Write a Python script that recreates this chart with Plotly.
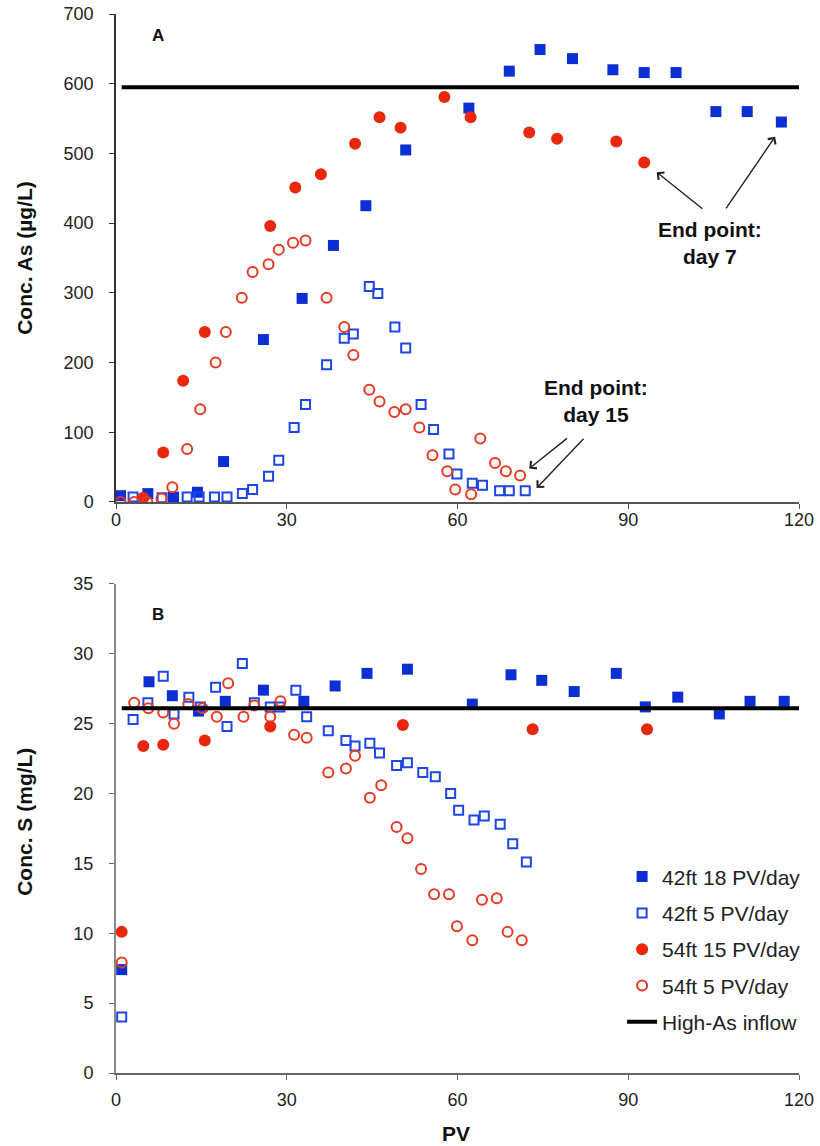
import plotly.graph_objects as go

# ---- Panel A: arsenic concentration vs pore volumes ----
as_pv_42ft_18 = [0.8, 5.6, 10.1, 14.3, 18.9, 25.9, 32.7, 38.2, 43.9, 50.9, 62.0, 69.1,
                 74.5, 80.2, 87.3, 92.8, 98.4, 105.4, 110.9, 116.9]
as_42ft_18 = [9, 12, 7, 14, 58, 233, 292, 368, 425, 505, 565, 618,
              649, 636, 620, 616, 616, 560, 560, 545]

as_pv_42ft_5 = [3.0, 8.1, 12.5, 14.6, 17.3, 19.5, 22.2, 24.0, 26.8, 28.6, 31.3, 33.3,
                37.0, 40.1, 41.7, 44.5, 46.0, 49.0, 50.9, 53.6, 55.8, 58.5, 59.9, 62.6,
                64.4, 67.4, 69.1, 71.9]
as_42ft_5 = [7, 6, 7, 7, 7, 7, 12, 18, 37, 60, 107, 140,
             197, 235, 241, 309, 299, 251, 221, 140, 104, 69, 40, 27,
             24, 16, 16, 16]

as_pv_54ft_15 = [4.8, 8.3, 11.8, 15.6, 27.1, 31.5, 36.0, 42.0, 46.3, 50.0, 57.7, 62.3,
                 72.6, 77.5, 87.9, 92.8]
as_54ft_15 = [6, 71, 174, 244, 396, 451, 470, 514, 552, 537, 581, 552,
              530, 521, 517, 487]

as_pv_54ft_5 = [0.8, 3.2, 5.5, 8.0, 9.9, 12.5, 14.8, 17.5, 19.3, 22.1, 24.0, 26.8,
                28.6, 31.1, 33.3, 37.0, 40.1, 41.7, 44.5, 46.3, 48.9, 50.9, 53.3, 55.6,
                58.2, 59.6, 62.4, 64.0, 66.6, 68.5, 71.0]
as_54ft_5 = [0, 0, 0, 5, 21, 76, 133, 200, 244, 293, 330, 341,
             362, 372, 375, 293, 251, 211, 161, 144, 129, 133, 107, 67,
             44, 18, 11, 91, 56, 44, 38]

# ---- Panel B: sulfur concentration vs pore volumes ----
s_pv_42ft_18 = [1.0, 5.8, 9.9, 14.5, 19.2, 25.9, 33.0, 38.5, 44.1, 51.2, 62.6, 69.4,
                74.8, 80.5, 87.9, 93.0, 98.7, 106.0, 111.4, 117.4]
s_42ft_18 = [7.4, 28.0, 27.0, 25.9, 26.6, 27.4, 26.6, 27.7, 28.6, 28.9, 26.4, 28.5,
             28.1, 27.3, 28.6, 26.2, 26.9, 25.7, 26.6, 26.6]

s_pv_42ft_5 = [1.0, 3.0, 5.6, 8.3, 10.2, 12.8, 14.8, 17.5, 19.5, 22.2, 24.3, 27.1,
               28.8, 31.6, 33.5, 37.3, 40.4, 42.0, 44.6, 46.3, 49.3, 51.2, 53.9, 56.1,
               58.8, 60.2, 62.9, 64.7, 67.5, 69.7, 72.1]
s_42ft_5 = [4.0, 25.3, 26.5, 28.4, 25.7, 26.9, 26.2, 27.6, 24.8, 29.3, 26.5, 26.2,
            26.2, 27.4, 25.5, 24.5, 23.8, 23.4, 23.6, 22.9, 22.0, 22.2, 21.5, 21.2,
            20.0, 18.8, 18.1, 18.4, 17.8, 16.4, 15.1]

s_pv_54ft_15 = [1.0, 4.8, 8.3, 15.6, 27.1, 50.4, 73.2, 93.3]
s_54ft_15 = [10.1, 23.4, 23.5, 23.8, 24.8, 24.9, 24.6, 24.6]

s_pv_54ft_5 = [1.0, 3.2, 5.7, 8.3, 10.2, 12.7, 15.2, 17.7, 19.7, 22.4, 24.3, 27.1,
               28.9, 31.3, 33.5, 37.3, 40.4, 42.0, 44.6, 46.6, 49.3, 51.2, 53.6, 55.9,
               58.5, 59.9, 62.6, 64.3, 66.9, 68.8, 71.3]
s_54ft_5 = [7.9, 26.5, 26.1, 25.8, 25.0, 26.4, 26.1, 25.5, 27.9, 25.5, 26.3, 25.5,
            26.6, 24.2, 24.0, 21.5, 21.8, 22.7, 19.7, 20.6, 17.6, 16.8, 14.6, 12.8,
            12.8, 10.5, 9.5, 12.4, 12.5, 10.1, 9.5]

# High-As inflow reference levels
inflow_pv = [1, 120]
inflow_as = [595, 595]
inflow_s = [26.1, 26.1]

series_names = ["42ft 18 PV/day", "42ft 5 PV/day", "54ft 15 PV/day", "54ft 5 PV/day"]
inflow_name = "High-As inflow"

BLUE = "#0B2FD3"
BLUE_OPEN = "#1E45E6"
RED = "#E8270C"
RED_OPEN = "#E83A22"
FONT = "Liberation Sans, Arial, sans-serif"

marker_styles = [
    dict(symbol="square", size=11, color=BLUE, line=dict(width=0)),
    dict(symbol="square-open", size=9, color=BLUE_OPEN, line=dict(width=2, color=BLUE_OPEN)),
    dict(symbol="circle", size=12, color=RED, line=dict(width=0)),
    dict(symbol="circle-open", size=10, color=RED_OPEN, line=dict(width=2, color=RED_OPEN)),
]

fig = go.Figure()

panel_a = [(as_pv_42ft_18, as_42ft_18), (as_pv_42ft_5, as_42ft_5),
           (as_pv_54ft_15, as_54ft_15), (as_pv_54ft_5, as_54ft_5)]
panel_b = [(s_pv_42ft_18, s_42ft_18), (s_pv_42ft_5, s_42ft_5),
           (s_pv_54ft_15, s_54ft_15), (s_pv_54ft_5, s_54ft_5)]

for (x, y), name, mk in zip(panel_a, series_names, marker_styles):
    fig.add_trace(go.Scatter(x=x, y=y, mode="markers", name=name, marker=mk,
                             xaxis="x", yaxis="y", showlegend=False))
fig.add_trace(go.Scatter(x=inflow_pv, y=inflow_as, mode="lines", name=inflow_name,
                         line=dict(color="black", width=4), xaxis="x", yaxis="y",
                         showlegend=False))

for i, ((x, y), name, mk) in enumerate(zip(panel_b, series_names, marker_styles)):
    fig.add_trace(go.Scatter(x=x, y=y, mode="markers", name=name, marker=mk,
                             xaxis="x2", yaxis="y2", legendgroup=f"g{i}"))
fig.add_trace(go.Scatter(x=inflow_pv, y=inflow_s, mode="lines", name=inflow_name,
                         line=dict(color="black", width=4), xaxis="x2", yaxis="y2",
                         legendgroup="g4"))

axis_common = dict(showgrid=False, zeroline=False, showline=True, ticks="outside",
                   automargin=False, ticklen=5, tickwidth=1.2,
                   tickfont=dict(size=18, color="#222", family=FONT))

fig.update_layout(
    width=820, height=1146,
    margin=dict(l=116, r=21, t=14, b=73, autoexpand=False),
    paper_bgcolor="white", plot_bgcolor="white",
    font=dict(family=FONT, color="#111"),
    xaxis=dict(domain=[0, 1], anchor="y", range=[0, 120], tickvals=[0, 30, 60, 90, 120],
               linecolor="#555", linewidth=1.5, tickcolor="#555",
               ticklabelstandoff=-4, **axis_common),
    yaxis=dict(domain=[0.5392, 1], anchor="x", range=[0, 700], dtick=100,
               linecolor="#333", linewidth=1.5, tickcolor="#333",
               ticklabelstandoff=12, **axis_common),
    xaxis2=dict(domain=[0, 1], anchor="y2", range=[0, 120], tickvals=[0, 30, 60, 90, 120],
                linecolor="#666", linewidth=1.5, tickcolor="#666",
                ticklabelstandoff=5, **axis_common),
    yaxis2=dict(domain=[0, 0.4618], anchor="x2", range=[0, 35], dtick=5,
                linecolor="#8a8a8a", linewidth=2, tickcolor="#666",
                ticklabelstandoff=12, **axis_common),
    legend=dict(x=0.741, y=0.2045, xanchor="left", yanchor="top",
                font=dict(size=21, color="#222", family=FONT),
                bgcolor="rgba(0,0,0,0)", itemwidth=30,
                traceorder="grouped", tracegroupgap=6),
)

ann = []
# Axis titles
ann.append(dict(text="<b>Conc. As (µg/L)</b>", xref="paper", yref="paper",
                x=-0.135, y=(1073 - 258) / 1059, textangle=-90, showarrow=False,
                font=dict(size=21, family=FONT, color="#111"), xanchor="center", yanchor="middle"))
ann.append(dict(text="<b>Conc. S (mg/L)</b>", xref="paper", yref="paper",
                x=-0.135, y=(1073 - 822) / 1059, textangle=-90, showarrow=False,
                font=dict(size=21, family=FONT, color="#111"), xanchor="center", yanchor="middle"))
ann.append(dict(text="<b>PV</b>", xref="paper", yref="paper",
                x=(456 - 116) / 683, y=(1073 - 1133) / 1059, showarrow=False,
                font=dict(size=21, family=FONT, color="#111"), xanchor="center", yanchor="middle"))
# Panel labels
ann.append(dict(text="<b>A</b>", xref="x", yref="y", x=7.35, y=669, showarrow=False,
                font=dict(size=17, family=FONT, color="#111")))
ann.append(dict(text="<b>B</b>", xref="x2", yref="y2", x=7.3, y=32.8, showarrow=False,
                font=dict(size=17, family=FONT, color="#111")))
# End point labels
ann.append(dict(text="<b>End point:<br>day 7</b>", xref="x", yref="y", x=104.4, y=372,
                showarrow=False, font=dict(size=21, family=FONT, color="#111")))
ann.append(dict(text="<b>End point:<br>day 15</b>", xref="x", yref="y", x=84.4, y=145,
                showarrow=False, font=dict(size=21, family=FONT, color="#111")))
# Arrows pointing to final samples
arrow_style = dict(showarrow=True, arrowhead=4, arrowsize=1.3, arrowwidth=1.4,
                   arrowcolor="#222", text="", xref="x", yref="y", axref="x", ayref="y")
ann.append(dict(x=95.0, y=473, ax=103.3, ay=419, **arrow_style))
ann.append(dict(x=115.8, y=524, ax=107.0, ay=419, **arrow_style))
ann.append(dict(x=72.6, y=48, ax=79.5, ay=93, **arrow_style))
ann.append(dict(x=73.9, y=20, ax=82.4, ay=93, **arrow_style))

fig.update_layout(annotations=ann)
fig.write_html("out.html")
